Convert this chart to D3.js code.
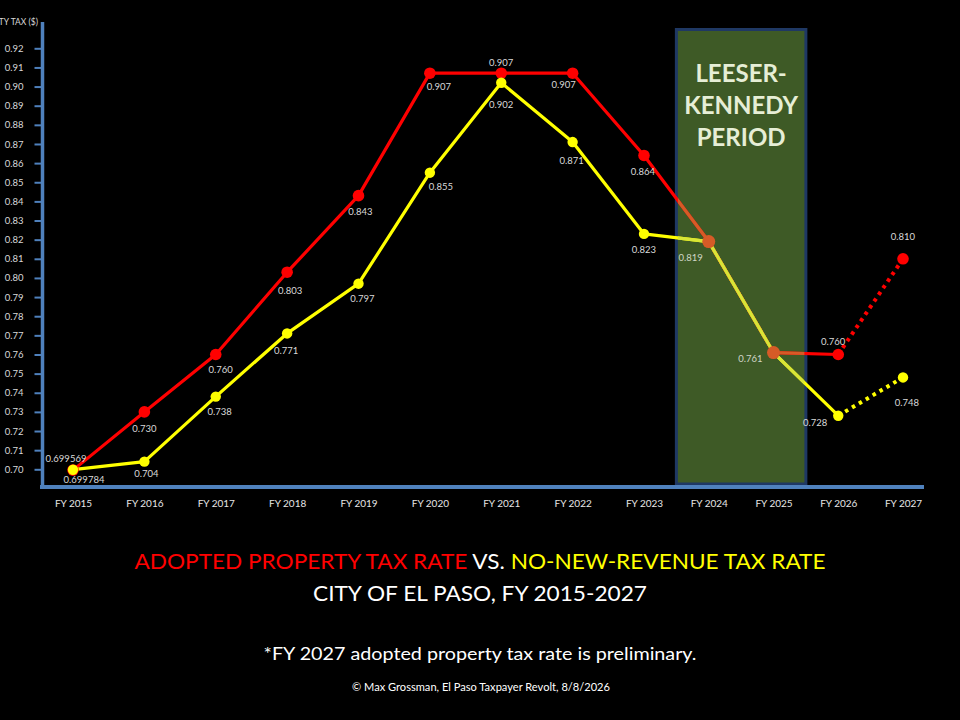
<!DOCTYPE html>
<html>
<head>
<meta charset="utf-8">
<script src="https://cdn.jsdelivr.net/npm/d3@7"></script>
<style>
body { margin: 0; background: #000; }
svg { display: block; }
</style>
</head>
<body>
<div id="chart"></div>
<script>
// data
var years = [2015, 2016, 2017, 2018, 2019, 2020, 2021, 2022, 2023, 2024, 2025, 2026, 2027];
var yearLabels = ["FY 2015", "FY 2016", "FY 2017", "FY 2018", "FY 2019", "FY 2020", "FY 2021",
                  "FY 2022", "FY 2023", "FY 2024", "FY 2025", "FY 2026", "FY 2027"];
var adopted = [0.699569, 0.730, 0.760, 0.803, 0.843, 0.907, 0.907, 0.907, 0.864, 0.819, 0.761, 0.760, 0.810];
var noNewRevenue = [0.699784, 0.704, 0.738, 0.771, 0.797, 0.855, 0.902, 0.871, 0.823, 0.819, 0.761, 0.728, 0.748];
var adoptedLabels = ["0.699569", "0.730", "0.760", "0.803", "0.843", "0.907", "0.907", "0.907", "0.864", "", "", "0.760", "0.810"];
var nnrLabels = ["0.699784", "0.704", "0.738", "0.771", "0.797", "0.855", "0.902", "0.871", "0.823", "0.819", "0.761", "0.728", "0.748"];
var yTicks = [0.70, 0.71, 0.72, 0.73, 0.74, 0.75, 0.76, 0.77, 0.78, 0.79, 0.80, 0.81,
              0.82, 0.83, 0.84, 0.85, 0.86, 0.87, 0.88, 0.89, 0.90, 0.91, 0.92];
var periodStart = 2024, periodEnd = 2025;

var width = 960, height = 720;
var axisBlue = "#4f81bd";
var txt = "#d9d9d9";

var svg = d3.select("#chart").append("svg")
  .attr("width", width)
  .attr("height", height)
  .style("background", "#000")
  .style("font-family", "Lato, 'Open Sans', sans-serif");

// the last few fiscal years sit a bit closer together on the slide
var x = d3.scaleLinear().domain([2015, 2023, 2027]).range([73, 644, 903]);
var y = d3.scaleLinear().domain([0.70, 0.92]).range([469.3, 48.3]);
var axisY = 487;

// shaded period box
var boxX0 = x(periodStart - 0.5), boxX1 = x(periodEnd + 0.5);
var boxTop = 29.5, boxBottom = 484;
svg.append("rect")
  .attr("x", boxX0).attr("y", boxTop)
  .attr("width", boxX1 - boxX0).attr("height", boxBottom - boxTop)
  .attr("fill", "#3e5a26")
  .attr("stroke", "#1f3864")
  .attr("stroke-width", 3);

svg.append("g")
  .selectAll("text")
  .data(["LEESER-", "KENNEDY", "PERIOD"])
  .join("text")
  .attr("x", (boxX0 + boxX1) / 2)
  .attr("y", function (d, i) { return 73 + i * 32; })
  .attr("dy", "0.36em")
  .attr("text-anchor", "middle")
  .attr("fill", "#e6eed6")
  .attr("font-weight", "bold")
  .attr("font-size", 24)
  .text(function (d) { return d; });

// y axis
var yAxis = d3.axisLeft(y)
  .tickValues(yTicks)
  .tickFormat(d3.format(".2f"))
  .tickSize(8)
  .tickPadding(11);
var gy = svg.append("g").attr("transform", "translate(42.5,0)").call(yAxis);
gy.select(".domain").remove();
gy.selectAll(".tick line").attr("stroke", axisBlue).attr("stroke-width", 2);
gy.selectAll(".tick text").attr("fill", txt).attr("font-size", 9.5).attr("font-family", "Lato, sans-serif");

svg.append("line")
  .attr("x1", 42.5).attr("x2", 42.5)
  .attr("y1", 22).attr("y2", axisY + 2)
  .attr("stroke", axisBlue).attr("stroke-width", 3.5);

// axis title runs off the left edge on the slide too
svg.append("text")
  .attr("x", 38).attr("y", 25)
  .attr("text-anchor", "end")
  .attr("fill", txt)
  .attr("font-size", 8.5)
  .text("PROPERTY TAX ($)");

// x axis
var xAxis = d3.axisBottom(x)
  .tickValues(years)
  .tickFormat(function (d, i) { return yearLabels[i]; })
  .tickSize(0)
  .tickPadding(13);
var gx = svg.append("g").attr("transform", "translate(0," + axisY + ")").call(xAxis);
gx.select(".domain").remove();
gx.selectAll(".tick text").attr("fill", "#e6e6e6").attr("font-size", 10).attr("font-family", "Lato, sans-serif");

svg.append("line")
  .attr("x1", 40).attr("x2", 924)
  .attr("y1", axisY).attr("y2", axisY)
  .attr("stroke", axisBlue).attr("stroke-width", 4);

// lines
var idx = d3.range(years.length);
function lineFor(values) {
  return d3.line()
    .x(function (i) { return x(years[i]); })
    .y(function (i) { return y(values[i]); });
}
var solidIdx = idx.slice(0, years.length - 1);
var lastIdx = idx.slice(years.length - 2);

function drawSeries(g, values, color) {
  g.append("path")
    .attr("d", lineFor(values)(solidIdx))
    .attr("fill", "none").attr("stroke", color).attr("stroke-width", 3.2)
    .attr("stroke-linejoin", "round");
  g.append("path")
    .attr("d", lineFor(values)(lastIdx))
    .attr("fill", "none").attr("stroke", color).attr("stroke-width", 4)
    .attr("stroke-dasharray", "3.5,4.5");
}
function drawMarkers(g, values, color, r) {
  g.append("g")
    .selectAll("circle")
    .data(idx)
    .join("circle")
    .attr("cx", function (i) { return x(years[i]); })
    .attr("cy", function (i) { return y(values[i]); })
    .attr("r", r)
    .attr("fill", color);
}

var plot = svg.append("g");
drawSeries(plot, adopted, "#ff0000");
drawSeries(plot, noNewRevenue, "#ffff00");
drawMarkers(plot, adopted, "#ff0000", 5.8);
drawMarkers(plot, noNewRevenue, "#ffff00", 5.2);

// recoloured lines inside the period box
svg.append("clipPath").attr("id", "boxclip")
  .append("rect")
  .attr("x", boxX0 + 1.5).attr("y", boxTop + 1.5)
  .attr("width", boxX1 - boxX0 - 3).attr("height", boxBottom - boxTop - 3);
var inBox = svg.append("g").attr("clip-path", "url(#boxclip)");
drawSeries(inBox, adopted, "#d65b27");
drawSeries(inBox, noNewRevenue, "#d8e537");
drawMarkers(inBox, noNewRevenue, "#d8e537", 5.2);
drawMarkers(inBox, adopted, "#d65b27", 6.5);

// data labels
var adoptedNudge = [[-7, -11], [0, 17], [5, 15], [3, 18], [2, 16], [9, 13], [0, -11], [-9, 11],
                    [-1, 16], [0, 0], [0, 0], [-5, -13], [0, -22]];
var nnrNudge = [[11, 10], [2, 12], [4, 15], [-1, 17], [4, 15], [11, 14], [0, 22], [-1, 19],
                [0, 16], [-18, 16], [-23, 6], [-23, 7], [4, 25]];

function drawLabels(values, labels, nudge) {
  svg.append("g")
    .selectAll("text")
    .data(idx.filter(function (i) { return labels[i] !== ""; }))
    .join("text")
    .attr("x", function (i) { return x(years[i]) + nudge[i][0]; })
    .attr("y", function (i) { return y(values[i]) + nudge[i][1]; })
    .attr("dy", "0.35em")
    .attr("text-anchor", "middle")
    .attr("fill", function (i) { return years[i] >= periodStart && years[i] <= periodEnd ? "#cfd6c6" : txt; })
    .attr("font-size", 9.5)
    .text(function (i) { return labels[i]; });
}
drawLabels(adopted, adoptedLabels, adoptedNudge);
drawLabels(noNewRevenue, nnrLabels, nnrNudge);

// titles
var title = svg.append("text")
  .attr("x", 480).attr("y", 561)
  .attr("dy", "0.35em")
  .attr("text-anchor", "middle")
  .attr("font-size", 22)
  .attr("textLength", 691)
  .attr("lengthAdjust", "spacingAndGlyphs");
title.append("tspan").attr("fill", "#ff0000").text("ADOPTED PROPERTY TAX RATE");
title.append("tspan").attr("fill", "#ffffff").text(" VS. ");
title.append("tspan").attr("fill", "#ffff00").text("NO-NEW-REVENUE TAX RATE");

svg.append("text")
  .attr("x", 480).attr("y", 593)
  .attr("dy", "0.35em")
  .attr("text-anchor", "middle")
  .attr("fill", "#ffffff")
  .attr("font-size", 22)
  .attr("textLength", 334)
  .attr("lengthAdjust", "spacingAndGlyphs")
  .text("CITY OF EL PASO, FY 2015-2027");

svg.append("text")
  .attr("x", 480).attr("y", 654)
  .attr("dy", "0.35em")
  .attr("text-anchor", "middle")
  .attr("fill", "#ffffff")
  .attr("font-size", 18)
  .attr("textLength", 433)
  .attr("lengthAdjust", "spacingAndGlyphs")
  .text("*FY 2027 adopted property tax rate is preliminary.");

svg.append("text")
  .attr("x", 481).attr("y", 687)
  .attr("dy", "0.35em")
  .attr("text-anchor", "middle")
  .attr("fill", "#ffffff")
  .attr("font-size", 10.5)
  .attr("textLength", 258)
  .attr("lengthAdjust", "spacingAndGlyphs")
  .text("© Max Grossman, El Paso Taxpayer Revolt, 8/8/2026");
</script>
</body>
</html>
